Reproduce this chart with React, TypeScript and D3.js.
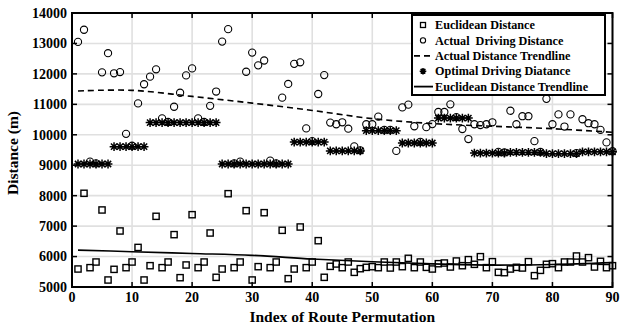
import React from 'react';
import * as d3 from 'd3';

const xTicks = [0, 10, 20, 30, 40, 50, 60, 70, 80, 90];
const yTicks = [5000, 6000, 7000, 8000, 9000, 10000, 11000, 12000, 13000, 14000];

const euclidean = [
  5591, 8078, 5635, 5821, 7530, 5230, 5580, 6840, 5635, 5821,
  6300, 5230, 5700, 7322, 5635, 5821, 6720, 5306, 5723, 7375,
  5635, 5821, 6774, 5318, 5591, 8065, 5635, 5821, 7507, 5230,
  5668, 7441, 5635, 5821, 6862, 5273, 5591, 6971, 5635, 5821,
  6521, 5318, 5679, 5756, 5635, 5821, 5482, 5602, 5646, 5668,
  5635, 5821, 5624, 5821, 5668, 5942, 5635, 5821, 5646, 5591,
  5766, 5788, 5657, 5854, 5700, 5898, 5745, 5996, 5635, 5832,
  5482, 5471, 5591, 5646, 5624, 5832, 5372, 5547, 5745, 5766,
  5635, 5821, 5821, 6018, 5821, 5964, 5657, 5843, 5635, 5700,
];

const actual = [
  13050, 13450, 9120, 9060, 12050, 12680, 12020, 12060, 10030, 9640,
  11030, 11660, 11910, 12150, 10540, 10420, 10920, 11380, 11950, 12180,
  10540, 10420, 10950, 11420, 13060, 13470, 9060, 9120, 12070, 12700,
  12280, 12440, 9150, 9060, 11220, 11670, 12330, 12380, 10210, 9790,
  11340, 11960, 10400, 10345, 10410, 10200, 9620, 9490, 10345, 10345,
  10595, 10160, 10160, 9470, 10900, 10990, 10280, 9770, 10250, 10350,
  10750, 10750, 11000, 10580, 10190, 9860, 10345, 10320, 10345, 10410,
  9440, 9420, 10790, 10345, 10610, 10610, 9790, 9440, 11180, 10345,
  10670, 10270, 10670, 9400, 10510, 10380, 10345, 10160, 9750, 9460,
];

const optimal = [
  9040, 9040, 9040, 9040, 9040, 9040, 9610, 9610, 9610, 9610,
  9610, 9610, 10400, 10400, 10400, 10400, 10400, 10400, 10400, 10400,
  10400, 10400, 10400, 10400, 9040, 9040, 9040, 9040, 9040, 9040,
  9040, 9040, 9040, 9040, 9040, 9040, 9760, 9760, 9760, 9760,
  9760, 9760, 9470, 9470, 9470, 9470, 9470, 9470, 10135, 10135,
  10135, 10135, 10135, 10135, 9730, 9730, 9730, 9730, 9730, 9730,
  10550, 10550, 10550, 10550, 10550, 10550, 9400, 9400, 9400, 9400,
  9400, 9400, 9420, 9420, 9420, 9420, 9420, 9420, 9380, 9380,
  9380, 9380, 9380, 9380, 9440, 9440, 9440, 9440, 9440, 9440,
];

const trendX = [1, 10, 20, 30, 40, 50, 60, 70, 80, 90];
const actualTrend = [11440, 11460, 11260, 11040, 10800, 10530, 10370, 10280, 10200, 10080];
const euclidTrend = [6210, 6160, 6100, 6040, 5920, 5830, 5760, 5720, 5740, 5800];

const legendLabels = [
  'Euclidean Distance',
  'Actual  Driving Distance',
  'Actual Distance Trendline',
  'Optimal Driving Diatance',
  'Euclidean Distance Trendline',
];

const FONT = '"Liberation Serif", "Times New Roman", serif';

function starPath(cx: number, cy: number, r: number) {
  const d = r * 0.7071;
  return `M${cx - r},${cy}L${cx + r},${cy}M${cx},${cy - r}L${cx},${cy + r}` +
    `M${cx - d},${cy - d}L${cx + d},${cy + d}M${cx - d},${cy + d}L${cx + d},${cy - d}`;
}

export default function App() {
  const W = 629, H = 329;
  const x = d3.scaleLinear().domain([0, 90]).range([72, 612.5]);
  const y = d3.scaleLinear().domain([5000, 14000]).range([287, 13]);
  const [x0, x1] = x.range();
  const [y0, y1] = y.range();

  const line = d3.line<[number, number]>()
    .x((d) => x(d[0]))
    .y((d) => y(d[1]))
    .curve(d3.curveCatmullRom.alpha(0.5));

  const actualTrendPath = line(trendX.map((t, i) => [t, actualTrend[i]]));
  const euclidTrendPath = line(trendX.map((t, i) => [t, euclidTrend[i]]));

  const idx = euclidean.map((_, i) => i + 1);

  const lg = { x: 412, y: 15, w: 193, h: 80 };
  const rowY = (k: number) => 25 + k * 15.4;

  return (
    <svg width={W} height={H} style={{ position: 'absolute', left: 0, top: 0, background: '#fff' }}
      fontFamily={FONT}>
      <rect x={0} y={0} width={W} height={H} fill="#fff" />
      {/* grid */}
      {xTicks.map((t) => (
        <line key={'gx' + t} x1={x(t)} x2={x(t)} y1={y1} y2={y0} stroke="#e0e0e0" strokeWidth={1.6} />
      ))}
      {yTicks.map((t) => (
        <line key={'gy' + t} x1={x0} x2={x1} y1={y(t)} y2={y(t)} stroke="#e0e0e0" strokeWidth={1.6} />
      ))}

      {/* trendlines */}
      <path d={euclidTrendPath || ''} fill="none" stroke="#000" strokeWidth={1.6} />
      <path d={actualTrendPath || ''} fill="none" stroke="#000" strokeWidth={1.6} strokeDasharray="6,4" />

      {/* optimal stars */}
      {idx.map((i) => (
        <path key={'s' + i} d={starPath(x(i), y(optimal[i - 1]), 4.4)} stroke="#000" strokeWidth={1.5} fill="none" />
      ))}

      {/* actual circles */}
      {idx.map((i) => (
        <circle key={'c' + i} cx={x(i)} cy={y(actual[i - 1])} r={3.6} fill="none" stroke="#000" strokeWidth={1.1} />
      ))}

      {/* euclidean squares */}
      {idx.map((i) => (
        <rect key={'q' + i} x={x(i) - 3.1} y={y(euclidean[i - 1]) - 3.1} width={6.2} height={6.2}
          fill="none" stroke="#000" strokeWidth={1.4} />
      ))}

      {/* axes box & ticks */}
      {xTicks.map((t) => (
        <g key={'tx' + t}>
          <line x1={x(t)} x2={x(t)} y1={y0} y2={y0 - 5} stroke="#000" strokeWidth={1.5} />
          <line x1={x(t)} x2={x(t)} y1={y1} y2={y1 + 5} stroke="#000" strokeWidth={1.5} />
          <text x={x(t)} y={302} textAnchor="middle" fontSize={14} fontWeight="bold">{t}</text>
        </g>
      ))}
      {yTicks.map((t) => (
        <g key={'ty' + t}>
          <line x1={x0} x2={x0 + 5} y1={y(t)} y2={y(t)} stroke="#000" strokeWidth={1.5} />
          <line x1={x1} x2={x1 - 5} y1={y(t)} y2={y(t)} stroke="#000" strokeWidth={1.5} />
          <text x={67} y={y(t)} dy="0.35em" textAnchor="end" fontSize={14} fontWeight="bold">{t}</text>
        </g>
      ))}
      <rect x={x0} y={y1} width={x1 - x0} height={y0 - y1} fill="none" stroke="#000" strokeWidth={2} />

      {/* axis titles */}
      <text x={(x0 + x1) / 2 - 0} y={322} textAnchor="middle" fontSize={15.5} fontWeight="bold">Index of Route Permutation</text>
      <text transform={`translate(13,${(y0 + y1) / 2 + 3}) rotate(-90)`} textAnchor="middle" dy="0.35em"
        fontSize={15.5} fontWeight="bold">Distance (m)</text>

      {/* legend */}
      <rect x={lg.x} y={lg.y} width={lg.w} height={lg.h} fill="#fff" stroke="#000" strokeWidth={2} />
      <rect x={423 - 2.5} y={rowY(0) - 2.5} width={5} height={5} fill="none" stroke="#000" strokeWidth={1.3} />
      <circle cx={423} cy={rowY(1)} r={2.6} fill="none" stroke="#000" strokeWidth={1.1} />
      <line x1={414} x2={433} y1={rowY(2)} y2={rowY(2)} stroke="#000" strokeWidth={1.8} strokeDasharray="6,4" />
      <path d={starPath(423, rowY(3), 3.3)} stroke="#000" strokeWidth={1.6} fill="none" />
      <line x1={414} x2={433} y1={rowY(4)} y2={rowY(4)} stroke="#000" strokeWidth={1.8} />
      {legendLabels.map((l, k) => (
        <text key={'l' + k} x={435} y={rowY(k)} dy="0.35em" fontSize={12.2} fontWeight="bold"
          style={{ whiteSpace: 'pre' }}>{l}</text>
      ))}
    </svg>
  );
}
